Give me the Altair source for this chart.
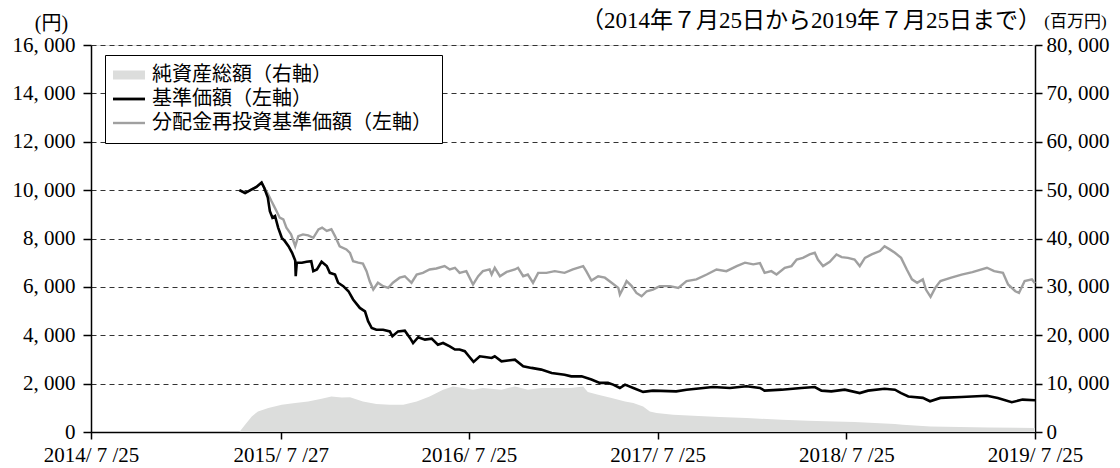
import altair as alt
import pandas as pd

# ---------------- data ----------------
nav_dates = [
    "2015-05-08", "2015-05-19", "2015-06-01", "2015-06-10", "2015-06-20", "2015-06-25",
    "2015-07-02", "2015-07-06", "2015-07-11", "2015-07-16", "2015-07-22", "2015-07-29",
    "2015-08-04", "2015-08-11", "2015-08-18", "2015-08-24", "2015-08-25", "2015-08-27",
    "2015-09-06", "2015-09-15", "2015-09-24", "2015-09-28", "2015-10-05", "2015-10-14",
    "2015-10-24", "2015-10-30", "2015-11-09", "2015-11-15", "2015-11-25", "2015-12-05",
    "2015-12-14", "2015-12-27", "2016-01-06", "2016-01-12", "2016-01-19", "2016-01-28",
    "2016-02-10", "2016-02-23", "2016-02-28", "2016-03-10", "2016-03-23", "2016-04-02",
    "2016-04-08", "2016-04-18", "2016-05-01", "2016-05-14", "2016-05-26", "2016-06-05",
    "2016-06-18", "2016-06-28", "2016-07-07", "2016-07-17", "2016-07-25", "2016-08-03",
    "2016-08-15", "2016-08-25", "2016-09-07", "2016-09-13", "2016-09-26", "2016-10-22",
    "2016-11-07", "2016-11-23", "2016-12-12", "2017-01-01", "2017-01-26", "2017-02-08",
    "2017-02-28", "2017-03-19", "2017-04-04", "2017-04-20", "2017-04-30", "2017-05-13",
    "2017-05-23", "2017-06-08", "2017-06-27", "2017-07-16", "2017-08-30", "2017-09-19",
    "2017-11-09", "2017-12-12", "2018-01-13", "2018-02-08", "2018-02-17", "2018-03-22",
    "2018-04-29", "2018-05-25", "2018-06-07", "2018-06-26", "2018-07-22", "2018-08-20",
    "2018-09-05", "2018-10-07", "2018-10-27", "2018-11-08", "2018-11-22", "2018-12-20",
    "2019-01-03", "2019-01-23", "2019-03-05", "2019-04-23", "2019-05-14", "2019-06-10",
    "2019-07-01", "2019-07-25",
]
nav_values = [
    10000, 9880, 10030, 10130, 10310, 10100,
    9690, 9130, 8860, 8930, 8450, 8030,
    7890, 7680, 7410, 7090, 6440, 7000,
    7000, 7040, 7060, 6650, 6720, 7040,
    6860, 6580, 6510, 6170, 6030, 5820,
    5480, 5130, 4990, 4580, 4300, 4230,
    4230, 4160, 3960, 4160, 4190, 3890,
    3680, 3920, 3820, 3860, 3610, 3680,
    3540, 3410, 3410, 3340, 3130, 2900,
    3130, 3100, 3060, 3130, 2920, 2990,
    2720, 2650, 2580, 2440, 2370, 2300,
    2300, 2170, 2030, 2030, 1960, 1820,
    1960, 1820, 1660, 1710, 1680, 1750,
    1860, 1820, 1890, 1820, 1710, 1750,
    1820, 1860, 1710, 1680, 1750, 1610,
    1710, 1790, 1750, 1610, 1470, 1410,
    1270, 1410, 1450, 1500, 1410, 1230,
    1340, 1310,
]

reinv_dates = [
    "2015-05-08", "2015-05-19", "2015-06-01", "2015-06-10", "2015-06-20", "2015-06-25",
    "2015-07-03", "2015-07-09", "2015-07-14", "2015-07-19", "2015-07-25", "2015-08-01",
    "2015-08-07", "2015-08-16", "2015-08-24", "2015-08-30", "2015-09-08", "2015-09-18",
    "2015-09-28", "2015-10-08", "2015-10-15", "2015-10-24", "2015-11-02", "2015-11-09",
    "2015-11-18", "2015-12-01", "2015-12-08", "2015-12-14", "2015-12-24", "2016-01-02",
    "2016-01-09", "2016-01-15", "2016-01-22", "2016-01-31", "2016-02-10", "2016-02-20",
    "2016-02-29", "2016-03-13", "2016-03-23", "2016-04-05", "2016-04-15", "2016-04-27",
    "2016-05-10", "2016-05-23", "2016-06-08", "2016-06-18", "2016-06-28", "2016-07-07",
    "2016-07-20", "2016-08-02", "2016-08-12", "2016-08-21", "2016-09-03", "2016-09-07",
    "2016-09-13", "2016-09-23", "2016-10-06", "2016-10-22", "2016-10-28", "2016-11-07",
    "2016-11-16", "2016-11-26", "2016-12-06", "2016-12-22", "2017-01-07", "2017-01-26",
    "2017-02-11", "2017-03-03", "2017-03-09", "2017-03-19", "2017-04-01", "2017-04-14",
    "2017-04-27", "2017-05-10", "2017-05-13", "2017-05-23", "2017-05-26", "2017-06-05",
    "2017-06-14", "2017-06-24", "2017-07-04", "2017-07-16", "2017-07-29", "2017-08-18",
    "2017-09-03", "2017-09-19", "2017-10-08", "2017-10-28", "2017-11-16", "2017-12-05",
    "2017-12-25", "2018-01-10", "2018-01-26", "2018-02-08", "2018-02-17", "2018-03-02",
    "2018-03-12", "2018-03-28", "2018-04-10", "2018-04-20", "2018-05-02", "2018-05-15",
    "2018-05-25", "2018-05-31", "2018-06-10", "2018-06-23", "2018-07-06", "2018-07-16",
    "2018-07-28", "2018-08-10", "2018-08-20", "2018-08-30", "2018-09-12", "2018-09-28",
    "2018-10-07", "2018-10-17", "2018-10-27", "2018-11-08", "2018-11-19", "2018-11-29",
    "2018-12-09", "2018-12-20", "2018-12-26", "2019-01-04", "2019-01-13", "2019-01-23",
    "2019-02-13", "2019-03-05", "2019-03-26", "2019-04-23", "2019-05-07", "2019-05-24",
    "2019-06-03", "2019-06-17", "2019-06-24", "2019-07-05", "2019-07-19", "2019-07-25",
]
reinv_values = [
    10000, 9880, 10030, 10130, 10310, 10100,
    9820, 9550, 9340, 9130, 8860, 8790,
    8450, 8170, 7680, 8100, 8170, 8130,
    8030, 8380, 8450, 8310, 8380, 8100,
    7680, 7550, 7400, 7060, 7000, 6960,
    6650, 6240, 5890, 6170, 6030, 5960,
    6170, 6380, 6440, 6170, 6510, 6580,
    6720, 6760, 6860, 6720, 6790, 6580,
    6650, 6100, 6440, 6650, 6720, 6510,
    6790, 6440, 6620, 6720, 6790, 6440,
    6510, 6170, 6580, 6580, 6650, 6580,
    6720, 6860, 6650, 6260, 6440, 6380,
    6170, 5960, 5680, 6100, 6240, 6030,
    5750, 5610, 5820, 5890, 6030, 6030,
    5960, 6240, 6310, 6510, 6720, 6650,
    6860, 7000, 6930, 6980, 6580, 6650,
    6510, 6790, 6860, 7130, 7200, 7340,
    7410, 7130, 6860, 7040, 7340, 7230,
    7200, 7130, 6860, 7200, 7340, 7480,
    7680, 7550, 7410, 7200, 6720, 6310,
    6170, 6310, 5890, 5590, 5960, 6240,
    6380, 6510, 6610, 6790, 6650, 6580,
    6100, 5820, 5750, 6240, 6310, 6150,
]

aum_dates = [
    "2015-05-08", "2015-05-19", "2015-06-01", "2015-06-13", "2015-07-03", "2015-07-29",
    "2015-08-24", "2015-09-18", "2015-10-14", "2015-11-02", "2015-11-22", "2015-12-08",
    "2016-01-02", "2016-01-28", "2016-02-23", "2016-03-20", "2016-04-15", "2016-05-10",
    "2016-06-05", "2016-06-24", "2016-07-14", "2016-08-02", "2016-08-21", "2016-09-26",
    "2016-10-22", "2016-11-16", "2016-12-12", "2017-01-13", "2017-02-08", "2017-03-03",
    "2017-03-12", "2017-04-01", "2017-04-27", "2017-05-23", "2017-06-08", "2017-06-27",
    "2017-07-10", "2017-07-23", "2017-08-24", "2017-10-02", "2017-11-22", "2018-01-13",
    "2018-02-08", "2018-03-22", "2018-05-12", "2018-07-03", "2018-08-10", "2018-09-18",
    "2018-10-27", "2018-11-11", "2019-01-04", "2019-04-26", "2019-07-25",
]
aum_values = [
    0, 1500, 3220, 4260, 4960, 5640,
    6000, 6330, 6880, 7360, 7150, 7200,
    6330, 5790, 5640, 5640, 6330, 7360,
    8740, 9430, 9090, 8740, 9090, 8740,
    9430, 8740, 9090, 9090, 9090, 9430,
    8270, 7710, 7030, 6330, 6000, 5290,
    4260, 3930, 3580, 3370, 3100, 2890,
    2750, 2540, 2340, 2190, 2070, 1860,
    1650, 1500, 1160, 950, 830,
]

S_AUM = "純資産総額（右軸）"
S_NAV = "基準価額（左軸）"
S_RE = "分配金再投資基準価額（左軸）"
series_names = [S_AUM, S_NAV, S_RE]
series_colors = ["#dcdddc", "#000000", "#a0a0a0"]
# legend symbol shapes: filled swatch for the area, thin bars for the lines
series_shapes = ["M-1.6,-0.45H1.6V0.45H-1.6Z", "M-1.6,-0.14H1.6V0.14H-1.6Z", "M-1.6,-0.12H1.6V0.12H-1.6Z"]

x_tick_dates = [(2014, 7, 25), (2015, 7, 27), (2016, 7, 25), (2017, 7, 25), (2018, 7, 25), (2019, 7, 25)]
left_ticks = [0, 2000, 4000, 6000, 8000, 10000, 12000, 14000, 16000]
right_ticks = [0, 10000, 20000, 30000, 40000, 50000, 60000, 70000, 80000]

TITLE = "（2014年７月25日から2019年７月25日まで）"

# ---------------- tables ----------------
df_aum = pd.DataFrame({"date": aum_dates, "value": aum_values, "series": S_AUM})
df_nav = pd.DataFrame({"date": nav_dates, "value": nav_values, "series": S_NAV})
df_re = pd.DataFrame({"date": reinv_dates, "value": reinv_values, "series": S_RE})

FONT = "Liberation Serif, Noto Sans CJK JP"


def dt(y, m, d):
    return alt.DateTime(year=y, month=m, date=d, utc=True)


x_enc = alt.X(
    "date:T",
    scale=alt.Scale(type="utc", domain=[dt(2014, 7, 25), dt(2019, 7, 25)]),
    axis=alt.Axis(
        values=[dt(*t) for t in x_tick_dates],
        labelExpr="utcFormat(datum.value, '%Y') + '/ ' + utcFormat(datum.value, '%-m') + ' /' + utcFormat(datum.value, '%d')",
        title=None, grid=False, tickSize=7, tickColor="black", tickWidth=1.5,
        domainColor="black", domainWidth=1.5, labelFont=FONT, labelFontSize=21,
        labelColor="black", labelPadding=5, labelFlush=False, labelOverlap=False,
    ),
)

num_expr = "replace(format(datum.value, ','), ',', ', ')"

left_axis = alt.Axis(
    orient="left", values=left_ticks, labelExpr=num_expr,
    grid=True, gridDash=[5, 4], gridColor="#333333", gridWidth=1,
    tickSize=8, tickColor="black", tickWidth=1.5, domainColor="black", domainWidth=1.5,
    labelFont=FONT, labelFontSize=21, labelColor="black", labelPadding=8,
    title="(円)", titleAngle=0, titleX=-40, titleY=-12, titleAlign="center",
    titleBaseline="bottom", titleFont=FONT, titleFontSize=20, titleFontWeight="normal",
    titleColor="black",
)
right_axis = alt.Axis(
    orient="right", values=right_ticks, labelExpr=num_expr, grid=False,
    tickSize=7, tickColor="black", tickWidth=1.5, domainColor="black", domainWidth=1.5,
    labelFont=FONT, labelFontSize=21, labelColor="black", labelPadding=4,
    title="(百万円)", titleAngle=0, titleX=40, titleY=-15, titleAlign="center",
    titleBaseline="bottom", titleFont=FONT, titleFontSize=17, titleFontWeight="normal",
    titleColor="black",
)

legend = alt.Legend(
    title=None, orient="none", legendX=14, legendY=10, direction="vertical",
    fillColor="white", strokeColor="black", padding=10,
    labelFont=FONT, labelFontSize=20, labelColor="black", labelOffset=13, labelLimit=500,
    symbolSize=400, symbolOffset=4, rowPadding=4, symbolStrokeWidth=0, symbolOpacity=1,
)

color_enc = alt.Color(
    "series:N",
    scale=alt.Scale(domain=series_names, range=series_colors),
    legend=legend,
)
shape_enc = alt.Shape(
    "series:N",
    scale=alt.Scale(domain=series_names, range=series_shapes),
    legend=legend,
)

y_left = alt.Y("value:Q", scale=alt.Scale(domain=[0, 16000]), axis=left_axis)

# key layer: carries the merged legend (no rows are drawn)
key = alt.Chart(df_nav).mark_point(filled=True, opacity=1).encode(
    x=x_enc, y=y_left, color=color_enc, shape=shape_enc,
).transform_filter("datum.value < 0")

area = alt.Chart(df_aum).mark_area(interpolate="linear", opacity=1).encode(
    x=x_enc,
    y=alt.Y("value:Q", scale=alt.Scale(domain=[0, 80000]), axis=right_axis),
    color=color_enc,
)

gray_line = alt.Chart(df_re).mark_line(strokeWidth=2.4).encode(
    x=x_enc, y=y_left, color=color_enc,
)
black_line = alt.Chart(df_nav).mark_line(strokeWidth=2.6).encode(
    x=x_enc, y=y_left, color=color_enc,
)

lines = alt.layer(key, gray_line, black_line)

chart = alt.layer(area, lines).resolve_scale(y="independent").properties(
    width=944,
    height=387,
    autosize=alt.AutoSizeParams(type="none"),
    padding={"left": 83, "top": 37, "right": 77, "bottom": 36},
    title=alt.TitleParams(
        text=TITLE, anchor="end", frame="group", font=FONT, fontSize=23,
        fontWeight="normal", color="black", offset=10, dx=6, dy=31,
    ),
).configure_view(
    stroke="black", strokeWidth=1.5,
).configure(background="white")

chart.save("out.html", embed_options={"renderer": "svg", "actions": False})
